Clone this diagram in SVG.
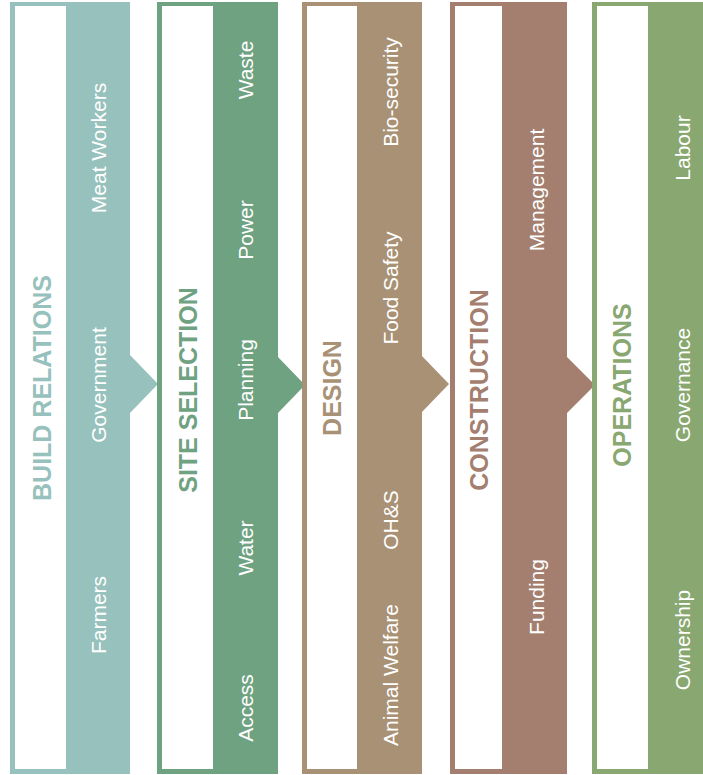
<svg xmlns="http://www.w3.org/2000/svg" width="703" height="775" viewBox="0 0 703 775">
<style>
.title{font-family:"Liberation Sans",Arial,sans-serif;font-weight:bold;font-size:25px;text-anchor:middle}
.item{font-family:"Liberation Sans",Arial,sans-serif;font-size:21px;fill:#ffffff;text-anchor:middle}
.white{fill:#ffffff}
</style>
<rect width="703" height="775" fill="#ffffff"/>
<g id="col-build-relations">
<rect x="10" y="2" width="120" height="772" fill="#97c1bd"/>
<polygon points="129,354 158,384 129,414" fill="#97c1bd"/>
<rect class="white" x="15" y="6" width="51" height="763"/>
<text class="title" fill="#97c1bd" transform="translate(51,388) rotate(-90)">BUILD RELATIONS</text>
<text class="item" transform="translate(106,615) rotate(-90)">Farmers</text>
<text class="item" transform="translate(106,385) rotate(-90)">Government</text>
<text class="item" transform="translate(106,148) rotate(-90)">Meat Workers</text>
</g>
<g id="col-site-selection">
<rect x="157" y="2" width="121" height="772" fill="#6fa281"/>
<polygon points="277,356 305,385 277,414" fill="#6fa281"/>
<rect class="white" x="162" y="6" width="51" height="763"/>
<text class="title" fill="#6fa281" transform="translate(197,390) rotate(-90)">SITE SELECTION</text>
<text class="item" transform="translate(253,708) rotate(-90)">Access</text>
<text class="item" transform="translate(253,548) rotate(-90)">Water</text>
<text class="item" transform="translate(253,380) rotate(-90)">Planning</text>
<text class="item" transform="translate(253,230) rotate(-90)">Power</text>
<text class="item" transform="translate(253,70) rotate(-90)">Waste</text>
</g>
<g id="col-design">
<rect x="302" y="2" width="120" height="772" fill="#a89175"/>
<polygon points="421,355 449,384 421,413" fill="#a89175"/>
<rect class="white" x="307" y="6" width="50" height="763"/>
<text class="title" fill="#a89175" transform="translate(341,388) rotate(-90)">DESIGN</text>
<text class="item" transform="translate(398,675) rotate(-90)">Animal Welfare</text>
<text class="item" transform="translate(398,520) rotate(-90)">OH&amp;S</text>
<text class="item" transform="translate(398,288) rotate(-90)">Food Safety</text>
<text class="item" transform="translate(398,92) rotate(-90)">Bio-security</text>
</g>
<g id="col-construction">
<rect x="450" y="2" width="117" height="772" fill="#a47f6f"/>
<polygon points="566,356 595,385 566,414" fill="#a47f6f"/>
<rect class="white" x="455" y="6" width="47" height="763"/>
<text class="title" fill="#a47f6f" transform="translate(488,390) rotate(-90)">CONSTRUCTION</text>
<text class="item" transform="translate(544,597) rotate(-90)">Funding</text>
<text class="item" transform="translate(544,190) rotate(-90)">Management</text>
</g>
<g id="col-operations">
<rect x="592" y="2" width="120" height="772" fill="#89a771"/>
<rect class="white" x="597" y="6" width="51" height="763"/>
<text class="title" fill="#89a771" transform="translate(631,385) rotate(-90)">OPERATIONS</text>
<text class="item" transform="translate(690,640) rotate(-90)">Ownership</text>
<text class="item" transform="translate(690,385) rotate(-90)">Governance</text>
<text class="item" transform="translate(690,148) rotate(-90)">Labour</text>
</g>
<g id="connectors"></g>
</svg>
